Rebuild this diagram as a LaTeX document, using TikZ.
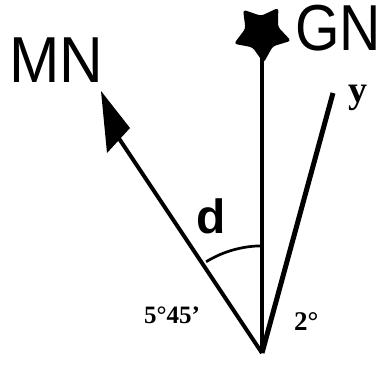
\documentclass[tikz,border=0pt]{standalone}
\usepackage{fontspec}
\setmainfont{Liberation Serif}
\newfontfamily\labsans{Liberation Sans}
\usetikzlibrary{shapes.geometric,calc}
\begin{document}
\begin{tikzpicture}[x=1pt,y=-1pt,
  dirline/.style={line width=4pt},
  ylinestyle/.style={line width=5pt},
  arcline/.style={line width=2.7pt},
  bigname/.style={font=\labsans\fontsize{65}{65}\selectfont, inner sep=0pt, anchor=base west},
  numlab/.style={inner sep=0pt, anchor=base west},
]
\useasboundingbox (0,0) rectangle (388,367);
\coordinate (O) at (262,353);
\coordinate (Mtip) at (101,91);
\coordinate (Ml) at (107,153);
\coordinate (Mr) at (130,128);
\coordinate (Mend) at (118,137);
\coordinate (Y) at (333,93);
% star
\node[star, star points=5, star point ratio=1.75, shape border rotate=183, fill=black,
      minimum size=60pt, inner sep=0pt, rounded corners=3pt] (star) at (262,33) {};
% lines
\draw[dirline] (O) -- (star.center);
\draw[dirline] (O) -- (Mend);
\fill (Mtip) -- (Ml) -- (Mr) -- cycle;
\draw[ylinestyle] (O) -- (Y);
% arc
\draw[arcline] ($(O)+(238.5:107)$) arc[start angle=238.5, end angle=270, radius=108];
% labels
\node[bigname, xscale=0.93] (MN) at (9,82) {MN};
\node[bigname, xscale=0.88] (GN) at (295,50) {GN};
\node[font=\labsans\bfseries\fontsize{48}{48}\selectfont, inner sep=0pt, anchor=base west] (alpha) at (196,233) {d};
\node[numlab, font=\bfseries\fontsize{25}{25}\selectfont] (a1) at (144,323) {5°45’};
\node[numlab, font=\bfseries\fontsize{27}{27}\selectfont] (a2) at (294,330) {2°};
\node[numlab, font=\bfseries\fontsize{38}{38}\selectfont] (ylab) at (348,102) {y};
\end{tikzpicture}
\end{document}
